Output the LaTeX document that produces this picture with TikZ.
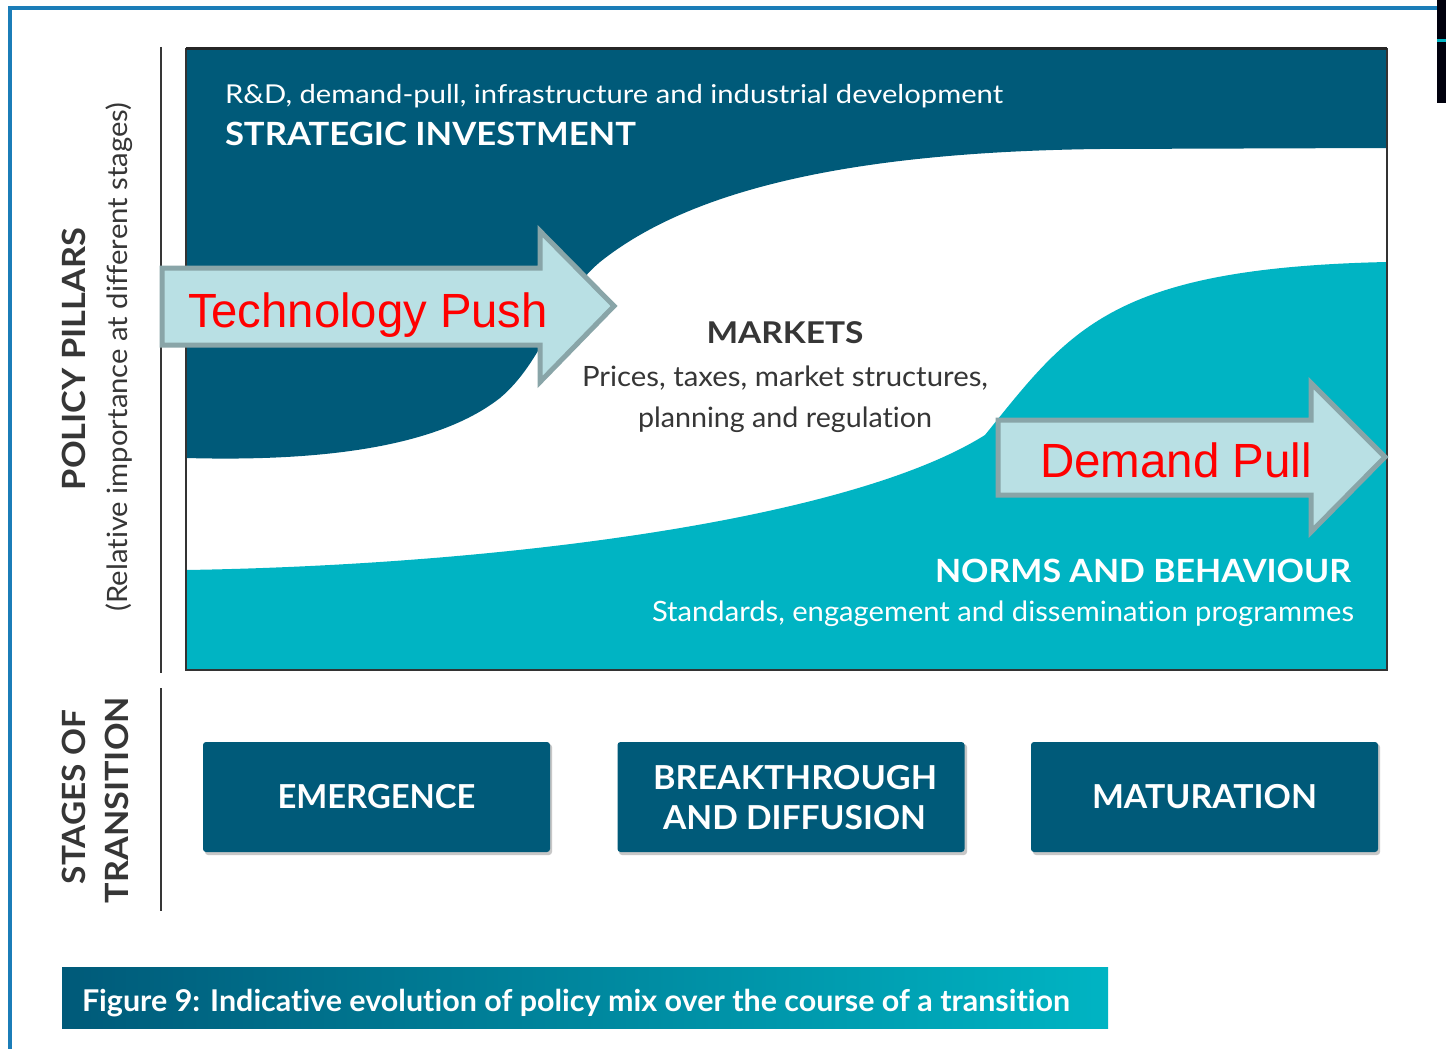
\documentclass[tikz,border=0pt]{standalone}
\usepackage{fontspec}
\setmainfont{Lato}[Ligatures={NoCommon}]
\newfontfamily\arialf{Liberation Sans}
\usepackage{graphicx}
\newsavebox\fitbox
\newcommand\fitto[2]{\sbox\fitbox{#2}\scalebox{\fpeval{(#1)/(\the\wd\fitbox)}}[1]{\usebox\fitbox}}
\definecolor{dblue}{HTML}{005A79}
\definecolor{teal2}{HTML}{00B4C3}
\definecolor{arrowfill}{HTML}{B9E0E4}
\definecolor{arrowline}{HTML}{89A5A8}
\definecolor{frameblue}{HTML}{1B7DB8}
\definecolor{txtgray}{HTML}{363636}
\tikzset{
  lbl/.style={inner sep=0pt, outer sep=0pt},
  bigarrow/.style={draw=arrowline, fill=arrowfill, line width=5pt, line join=miter, miter limit=10},
  stagebox/.style={fill=dblue, rounded corners=3pt, minimum width=347pt, minimum height=110pt, inner sep=0pt, text=white, align=center},
  stageshadow/.style={fill=black!22, rounded corners=3pt},
  axisline/.style={draw=txtgray, line width=2pt},
}
\begin{document}
\begin{tikzpicture}[x=1pt,y=-1pt]
\useasboundingbox (0,0) rectangle (1446,1049);
\fill[white] (0,0) rectangle (1446,1049);
% outer frame
\draw[frameblue, line width=4pt] (10,1049) -- (10,8) -- (1437,8);
\fill[black!95!blue] (1437,0) rectangle (1446,103);
\draw[teal2, line width=3pt] (1437,41) -- (1446,41);
% axis lines
\coordinate (ax1a) at (161,47); \coordinate (ax1b) at (161,673);
\coordinate (ax2a) at (161,688); \coordinate (ax2b) at (161,911);
\draw[axisline] (ax1a) -- (ax1b);
\draw[axisline] (ax2a) -- (ax2b);
% chart regions
\fill[dblue] (186,49) -- (1387,49) -- (1387,148) -- (1100,149)
  .. controls (850,152) and (690,190) .. (600,262)
  .. controls (555,300) and (545,360) .. (500,398)
  .. controls (440,445) and (330,462) .. (186,458) -- cycle;
\fill[teal2] (186,570) .. controls (500,565) and (850,520) .. (985,435)
  .. controls (1070,330) and (1110,268) .. (1387,262) -- (1387,670) -- (186,670) -- cycle;
\draw[black!80, line width=2pt] (186,49) rectangle (1387,670);
\draw[black!85, line width=3pt] (186,49) -- (1387,49);
% chart texts
\node[lbl, anchor=base west, text=white] (rd) at (225,103)
  {\fitto{778pt}{\fontsize{26}{30}\selectfont R\&D, demand-pull, infrastructure and industrial development}};
\node[lbl, anchor=base west, text=white] (si) at (225,145)
  {\fitto{411pt}{\fontsize{32}{36}\selectfont\bfseries STRATEGIC INVESTMENT}};
\node[lbl, anchor=base, text=txtgray] (mk) at (785,343)
  {\fitto{157pt}{\fontsize{30}{34}\selectfont\bfseries MARKETS}};
\node[lbl, anchor=base, text=txtgray] (mk1) at (785,386)
  {\fitto{406pt}{\fontsize{28}{32}\selectfont Prices, taxes, market structures,}};
\node[lbl, anchor=base, text=txtgray] (mk2) at (785,427)
  {\fitto{294pt}{\fontsize{28}{32}\selectfont planning and regulation}};
\node[lbl, anchor=base, text=white] (nb) at (1143,582)
  {\fitto{416pt}{\fontsize{32}{36}\selectfont\bfseries NORMS AND BEHAVIOUR}};
\node[lbl, anchor=base, text=white] (nb1) at (1003,621)
  {\fitto{702pt}{\fontsize{28}{32}\selectfont Standards, engagement and dissemination programmes}};
% arrows
\draw[bigarrow] (162,268) -- (540,268) -- (540,231) -- (614,306) -- (540,382) -- (540,345) -- (162,345) -- cycle;
\node[lbl, anchor=base, text=red] (tp) at (368,327)
  {\fitto{360pt}{\arialf\fontsize{48}{52}\selectfont Technology Push}};
\draw[bigarrow] (998,420) -- (1311,420) -- (1311,383) -- (1385,457) -- (1311,532) -- (1311,495) -- (998,495) -- cycle;
\node[lbl, anchor=base, text=red] (dp) at (1176,477)
  {\fitto{272pt}{\arialf\fontsize{48}{52}\selectfont Demand Pull}};
% left labels
\node[lbl, anchor=base, rotate=90, text=txtgray] (pp) at (85,359)
  {\fitto{262pt}{\fontsize{32}{36}\selectfont\bfseries POLICY PILLARS}};
\node[lbl, anchor=base, rotate=90, text=txtgray] (ri) at (127,357)
  {\fitto{509pt}{\fontsize{28}{32}\selectfont (Relative importance at different stages)}};
\node[lbl, anchor=base, rotate=90, text=txtgray] (so) at (85,797)
  {\fitto{174pt}{\fontsize{32}{36}\selectfont\bfseries STAGES OF}};
\node[lbl, anchor=base, rotate=90, text=txtgray] (tr) at (128,800)
  {\fitto{206pt}{\fontsize{32}{36}\selectfont\bfseries TRANSITION}};
% stage boxes
\fill[stageshadow] (205,744) rectangle (552,855);
\fill[stageshadow] (619,744) rectangle (967,855);
\fill[stageshadow] (1033,744) rectangle (1380,855);
\node[stagebox] (em) at (376.5,797) {\fitto{198pt}{\fontsize{33}{36}\selectfont\bfseries EMERGENCE}};
\node[stagebox] (bd) at (791,797) {};
\node[lbl, anchor=base, text=white] (bd1) at (795,789) {\fitto{284pt}{\fontsize{33}{36}\selectfont\bfseries BREAKTHROUGH}};
\node[lbl, anchor=base, text=white] (bd2) at (794.5,829) {\fitto{263pt}{\fontsize{33}{36}\selectfont\bfseries AND DIFFUSION}};
\node[stagebox] (mt) at (1204.5,797) {\fitto{225pt}{\fontsize{33}{36}\selectfont\bfseries MATURATION}};
% caption bar
\shade[left color=dblue, right color=teal2] (62,967) rectangle (1108,1028);
\node[lbl, anchor=base west, text=white] (cap) at (82,1011)
  {\fitto{988pt}{\fontsize{30}{34}\selectfont\bfseries Figure 9: Indicative evolution of policy mix over the course of a transition}};
\end{tikzpicture}
\end{document}
